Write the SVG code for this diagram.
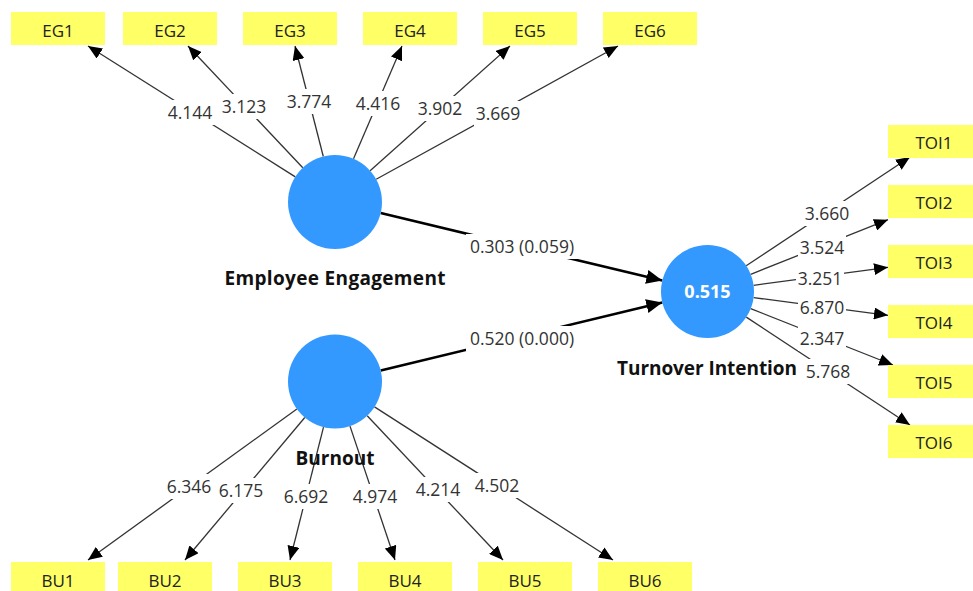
<svg xmlns="http://www.w3.org/2000/svg" width="973" height="591" viewBox="0 0 973 591">
<style>
.box{fill:#ffff66}
.bt{font-family:"Open Sans","Noto Sans",sans-serif;font-size:17px;fill:#222;text-anchor:middle}
.num{font-family:"Open Sans","Noto Sans",sans-serif;font-size:17.5px;fill:#333;text-anchor:middle}
.name{font-family:"Open Sans","Noto Sans",sans-serif;font-size:19px;font-weight:bold;fill:#111;text-anchor:middle}
.lv{fill:#3399ff}
.ld{stroke:#333;stroke-width:1.3;fill:none;marker-end:url(#ah)}
.sp{stroke:#000;stroke-width:2.6;fill:none;marker-end:url(#ahb)}
.bg{fill:#fff}
</style>
<defs>
<marker id="ah" markerUnits="userSpaceOnUse" markerWidth="15" markerHeight="12" refX="14" refY="6" orient="auto"><path d="M0,0 L14,6 L0,12 z" fill="#000"/></marker>
<marker id="ahb" markerUnits="userSpaceOnUse" markerWidth="17" markerHeight="14" refX="16" refY="7" orient="auto"><path d="M0,0 L16,7 L0,14 z" fill="#000"/></marker>
</defs>
<g id="connectors">
<path class="ld" d="M295.3,176.9 L88,46"/>
<path class="ld" d="M302.8,167.8 L188,46"/>
<path class="ld" d="M323.3,156.5 L295,46"/>
<path class="ld" d="M353.5,158.8 L402,46"/>
<path class="ld" d="M370.1,170.7 L510,46"/>
<path class="ld" d="M376.2,179.3 L618,46"/>
<path class="ld" d="M296.9,409 L88,560"/>
<path class="ld" d="M304.8,417.5 L185,560"/>
<path class="ld" d="M323.5,427.1 L290,560"/>
<path class="ld" d="M350,426.1 L395,560"/>
<path class="ld" d="M367.2,415.7 L503,560"/>
<path class="ld" d="M374.5,406.9 L613,560"/>
<path class="ld" d="M746.2,265.8 L910,157"/>
<path class="ld" d="M750.7,274.3 L888,219.7"/>
<path class="ld" d="M753.6,285.3 L888,267.3"/>
<path class="ld" d="M753.6,297.6 L888,315.3"/>
<path class="ld" d="M750.7,308.6 L893,365"/>
<path class="ld" d="M746.3,317.1 L910,425"/>
<path class="sp" d="M380.7,213 L662.3,280.6"/>
<path class="sp" d="M380.7,370.5 L662.3,302.4"/>
<g id="labels">
<rect class="bg" x="166" y="100" width="48" height="25"/><text class="num" x="190" y="119">4.144</text>
<rect class="bg" x="220" y="94" width="48" height="25"/><text class="num" x="244" y="113">3.123</text>
<rect class="bg" x="285" y="89" width="48" height="25"/><text class="num" x="309" y="108">3.774</text>
<rect class="bg" x="354" y="91" width="48" height="25"/><text class="num" x="378" y="110">4.416</text>
<rect class="bg" x="416" y="96" width="48" height="25"/><text class="num" x="440" y="115">3.902</text>
<rect class="bg" x="474" y="101" width="48" height="25"/><text class="num" x="498" y="120">3.669</text>
<rect class="bg" x="165" y="474" width="48" height="25"/><text class="num" x="189" y="493">6.346</text>
<rect class="bg" x="217" y="478" width="48" height="25"/><text class="num" x="241" y="497">6.175</text>
<rect class="bg" x="282" y="484" width="48" height="25"/><text class="num" x="306" y="503">6.692</text>
<rect class="bg" x="351" y="484" width="48" height="25"/><text class="num" x="375" y="503">4.974</text>
<rect class="bg" x="414" y="477" width="48" height="25"/><text class="num" x="438" y="496">4.214</text>
<rect class="bg" x="473" y="473" width="48" height="25"/><text class="num" x="497" y="492">4.502</text>
<rect class="bg" x="803" y="201" width="48" height="25"/><text class="num" x="827" y="220">3.660</text>
<rect class="bg" x="798" y="235" width="48" height="25"/><text class="num" x="822" y="254">3.524</text>
<rect class="bg" x="796" y="266" width="48" height="25"/><text class="num" x="820" y="285">3.251</text>
<rect class="bg" x="798" y="295" width="48" height="25"/><text class="num" x="822" y="314">6.870</text>
<rect class="bg" x="798" y="326" width="48" height="25"/><text class="num" x="822" y="345">2.347</text>
<rect class="bg" x="804" y="359" width="48" height="25"/><text class="num" x="828" y="378">5.768</text>
<rect class="bg" x="466" y="234" width="112" height="25"/><text class="num" x="522" y="253">0.303 (0.059)</text>
<rect class="bg" x="466" y="326" width="112" height="25"/><text class="num" x="522" y="345">0.520 (0.000)</text>
</g>
</g>
<g id="EG1"><rect class="box" x="11" y="12" width="94" height="33"/><text class="bt" x="58" y="36.5">EG1</text></g>
<g id="EG2"><rect class="box" x="123" y="12" width="94" height="33"/><text class="bt" x="170" y="36.5">EG2</text></g>
<g id="EG3"><rect class="box" x="243" y="12" width="94" height="33"/><text class="bt" x="290" y="36.5">EG3</text></g>
<g id="EG4"><rect class="box" x="363" y="12" width="94" height="33"/><text class="bt" x="410" y="36.5">EG4</text></g>
<g id="EG5"><rect class="box" x="483" y="12" width="94" height="33"/><text class="bt" x="530" y="36.5">EG5</text></g>
<g id="EG6"><rect class="box" x="603" y="12" width="94" height="33"/><text class="bt" x="650" y="36.5">EG6</text></g>
<g id="BU1"><rect class="box" x="11" y="562" width="94" height="33"/><text class="bt" x="58" y="586.5">BU1</text></g>
<g id="BU2"><rect class="box" x="118" y="562" width="94" height="33"/><text class="bt" x="165" y="586.5">BU2</text></g>
<g id="BU3"><rect class="box" x="238" y="562" width="94" height="33"/><text class="bt" x="285" y="586.5">BU3</text></g>
<g id="BU4"><rect class="box" x="358" y="562" width="94" height="33"/><text class="bt" x="405" y="586.5">BU4</text></g>
<g id="BU5"><rect class="box" x="478" y="562" width="94" height="33"/><text class="bt" x="525" y="586.5">BU5</text></g>
<g id="BU6"><rect class="box" x="598" y="562" width="94" height="33"/><text class="bt" x="645" y="586.5">BU6</text></g>
<g id="TOI1"><rect class="box" x="888" y="125" width="94" height="33"/><text class="bt" x="934" y="149">TOI1</text></g>
<g id="TOI2"><rect class="box" x="888" y="185" width="94" height="33"/><text class="bt" x="934" y="209">TOI2</text></g>
<g id="TOI3"><rect class="box" x="888" y="245" width="94" height="33"/><text class="bt" x="934" y="269">TOI3</text></g>
<g id="TOI4"><rect class="box" x="888" y="305" width="94" height="33"/><text class="bt" x="934" y="329">TOI4</text></g>
<g id="TOI5"><rect class="box" x="888" y="365" width="94" height="33"/><text class="bt" x="934" y="389">TOI5</text></g>
<g id="TOI6"><rect class="box" x="888" y="425" width="94" height="33"/><text class="bt" x="934" y="449">TOI6</text></g>
<g id="EmployeeEngagement"><circle class="lv" cx="335" cy="202" r="47"/><text class="name" x="335" y="285" textLength="221" lengthAdjust="spacing">Employee Engagement</text></g>
<g id="Burnout"><circle class="lv" cx="335" cy="381.5" r="47"/><text class="name" x="335" y="465">Burnout</text></g>
<g id="TurnoverIntention"><circle class="lv" cx="707.5" cy="291.5" r="46.5"/><text class="name" x="707.5" y="298" style="fill:#fff;font-size:18px">0.515</text><text class="name" x="707" y="375" textLength="180" lengthAdjust="spacing">Turnover Intention</text></g>
</svg>
